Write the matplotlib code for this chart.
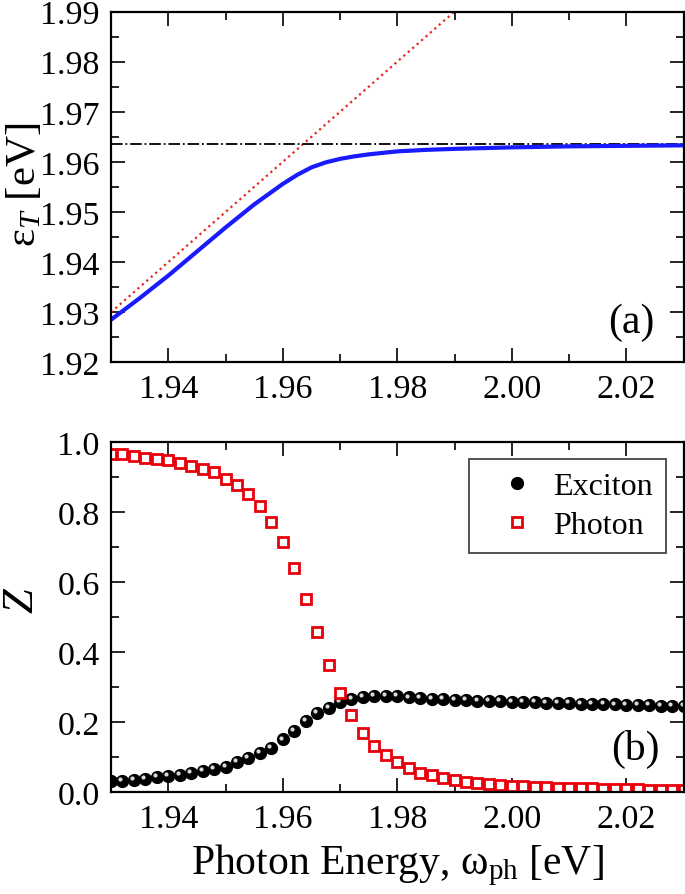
import matplotlib
matplotlib.use("Agg")
import matplotlib.pyplot as plt
import matplotlib.transforms as mtransforms
from matplotlib.ticker import MultipleLocator, FormatStrFormatter

plt.rcParams["font.family"] = ["Liberation Serif", "DejaVu Serif"]
plt.rcParams["mathtext.fontset"] = "custom"
plt.rcParams["mathtext.rm"] = "Liberation Serif"
plt.rcParams["mathtext.it"] = "Liberation Serif:italic"

# panel (a): lower polariton branch
energy_a = [1.930, 1.935, 1.940, 1.945, 1.950, 1.955, 1.960, 1.9625, 1.965,
            1.9675, 1.970, 1.9725, 1.975, 1.980, 1.985, 1.990, 2.000, 2.010,
            2.020, 2.030]
eps_t = [1.9285, 1.9328, 1.9373, 1.9421, 1.9469, 1.9515, 1.9556, 1.9574, 1.9589,
         1.9599, 1.9606, 1.9611, 1.9615, 1.9621, 1.9624, 1.9626, 1.9629, 1.9631,
         1.9632, 1.9633]
photon_line_x = [1.93, 1.99]
photon_line_y = [1.93, 1.99]
exciton_level = 1.9635

# panel (b): weights
energy_b = [round(1.930 + 0.002 * i, 3) for i in range(51)]
exciton = [0.030, 0.031, 0.035, 0.038, 0.042, 0.045, 0.049, 0.053, 0.059, 0.065,
           0.071, 0.085, 0.097, 0.112, 0.127, 0.150, 0.174, 0.202, 0.225, 0.241,
           0.257, 0.266, 0.271, 0.274, 0.274, 0.273, 0.270, 0.268, 0.267, 0.265,
           0.264, 0.262, 0.261, 0.260, 0.259, 0.258, 0.257, 0.256, 0.255, 0.254,
           0.253, 0.252, 0.252, 0.251, 0.250, 0.249, 0.249, 0.248, 0.247, 0.247,
           0.246]
photon = [0.967, 0.965, 0.960, 0.955, 0.952, 0.948, 0.940, 0.932, 0.924, 0.913,
          0.895, 0.876, 0.852, 0.818, 0.772, 0.713, 0.639, 0.551, 0.456, 0.363,
          0.282, 0.219, 0.169, 0.130, 0.105, 0.086, 0.069, 0.055, 0.048, 0.040,
          0.035, 0.029, 0.026, 0.022, 0.019, 0.017, 0.016, 0.014, 0.013, 0.012,
          0.011, 0.011, 0.010, 0.009, 0.009, 0.008, 0.008, 0.007, 0.007, 0.007,
          0.006]

fig = plt.figure(figsize=(6.85, 8.95), dpi=100)
ax1 = fig.add_axes([0.162, 0.594, 0.836, 0.392])
ax2 = fig.add_axes([0.162, 0.114, 0.836, 0.391])

for ax in (ax1, ax2):
    ax.tick_params(which="both", direction="in", top=True, right=True,
                   labelsize=24.5, width=1.2)
    ax.tick_params(which="major", length=10, pad=8)
    ax.tick_params(which="minor", length=6)
    for s in ax.spines.values():
        s.set_linewidth(1.6)
    ax.set_xlim(1.93, 2.03)
    ax.xaxis.set_major_locator(MultipleLocator(0.02))
    ax.xaxis.set_minor_locator(MultipleLocator(0.01))
    ax.xaxis.set_major_formatter(FormatStrFormatter("%.2f"))

# (a)
ax1.plot(photon_line_x, photon_line_y, color="#e8241f", ls=":", lw=1.6)
ax1.axhline(exciton_level, color="black", ls="-.", lw=1.3)
ax1.plot(energy_a, eps_t, color="#1a1aff", lw=3)
ax1.set_ylim(1.92, 1.99)
ax1.yaxis.set_major_locator(MultipleLocator(0.01))
ax1.yaxis.set_minor_locator(MultipleLocator(0.005))
ax1.yaxis.set_major_formatter(FormatStrFormatter("%.2f"))
ax1.set_ylabel("ε$_{T}$ [eV]", fontsize=31)
ax1.yaxis.set_label_coords(-0.117, 0.51)
ax1.text(0.95, 0.117, "(a)", transform=ax1.transAxes, fontsize=30,
         ha="right", va="center")

# (b)
hl = mtransforms.offset_copy(ax2.transData, fig=fig, x=-1.4, y=1.4, units="points")
ax2.plot(energy_b, exciton, ls="none", marker="o", ms=8.5, color="black",
         label="Exciton")
ax2.plot(energy_b, exciton, ls="none", marker="o", ms=3, color="#d8d8d8",
         mec="none", transform=hl)
ax2.plot(energy_b, photon, ls="none", marker="s", ms=6.5, mfc="white",
         mec="#e8000b", mew=2, label="Photon")
ax2.set_ylim(0.0, 1.0)
ax2.yaxis.set_major_locator(MultipleLocator(0.2))
ax2.yaxis.set_minor_locator(MultipleLocator(0.1))
ax2.yaxis.set_major_formatter(FormatStrFormatter("%.1f"))
ax2.set_ylabel("$Z$", fontsize=32)
ax2.yaxis.set_label_coords(-0.12, 0.55)
ax2.set_xlabel("Photon Energy, ω$_{\\mathrm{ph}}$ [eV]", fontsize=30, labelpad=6)
ax2.text(0.958, 0.123, "(b)", transform=ax2.transAxes, fontsize=30,
         ha="right", va="center")
leg = ax2.legend(loc="upper right", bbox_to_anchor=(0.969, 0.951), fontsize=23,
                 frameon=True, fancybox=False, edgecolor="black",
                 borderaxespad=0, handletextpad=0.05, borderpad=0.4,
                 labelspacing=0.3, handlelength=2.2)
leg.get_frame().set_linewidth(1.2)

fig.savefig("out.png", dpi=100)
